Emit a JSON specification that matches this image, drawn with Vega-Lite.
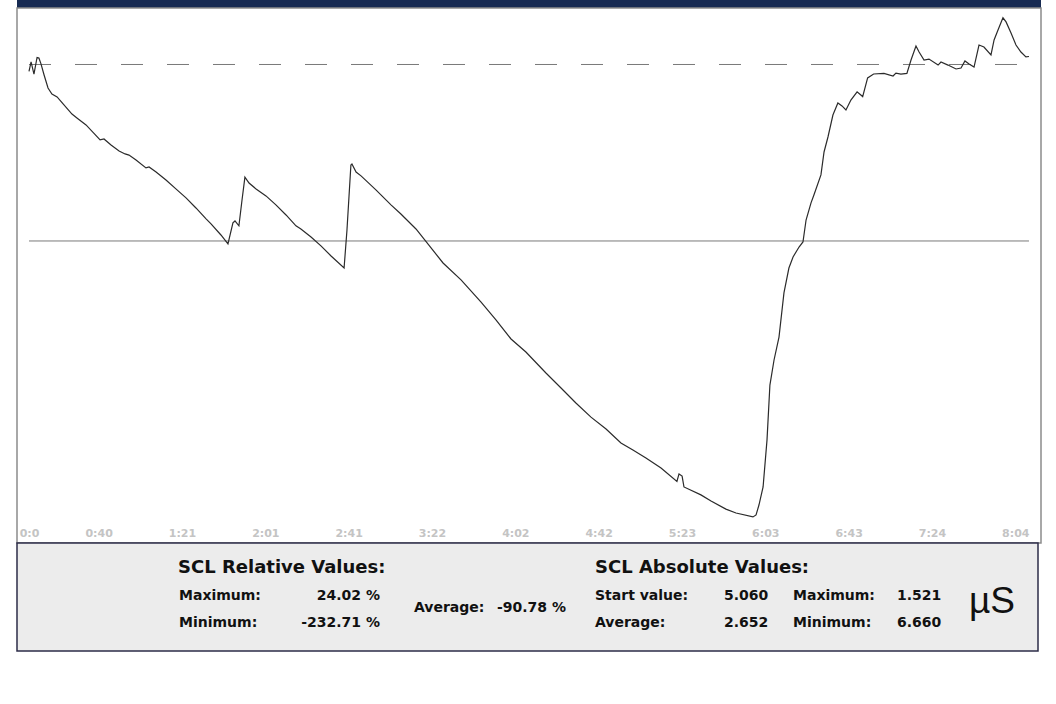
{
  "$schema": "https://vega.github.io/schema/vega-lite/v6.json",
  "background": "#ffffff",
  "padding": {"left": 16, "top": 0, "right": 0, "bottom": 0},
  "spacing": 0,
  "bounds": "flush",
  "config": {"view": {"stroke": null}, "font": "DejaVu Sans"},
  "vconcat": [
    {
      "width": 1024,
      "height": 8,
      "view": {"fill": "#172a52", "stroke": null},
      "data": {"values": [{}]},
      "mark": {"type": "text", "text": "", "fontSize": 1, "baseline": "middle"}
    },
    {
      "width": 1024,
      "height": 535,
      "view": {"fill": "#ffffff", "stroke": "#8c8c8c", "strokeWidth": 1.5},
      "encoding": {
        "x": {
          "field": "t",
          "type": "quantitative",
          "scale": {"domain": [-5.81, 489.81], "nice": false, "zero": false},
          "axis": {
            "values": [0, 40.3333, 80.6667, 121, 161.3333, 201.6667, 242, 282.3333, 322.6667, 363, 403.3333, 443.6667, 484],
            "labelExpr": "datum.value == 0 ? '0:0' : floor(round(datum.value) / 60) + ':' + (round(datum.value) % 60 < 10 ? '0' : '') + (round(datum.value) % 60)",
            "title": null,
            "domain": false,
            "ticks": false,
            "grid": false,
            "offset": -18,
            "labelPadding": 2,
            "labelBaseline": "top",
            "labelFont": "DejaVu Sans",
            "labelFontSize": 11,
            "labelFontWeight": "bold",
            "labelColor": "#c4c4c4",
            "labelAlign": {"condition": {"test": "datum.value == 0", "value": "center"}, "value": "right"},
            "labelFlush": false,
            "labelOverlap": false,
            "labelBound": false
          }
        },
        "y": {
          "field": "pct",
          "type": "quantitative",
          "scale": {"domain": [-246.14, 29.06], "nice": false, "zero": false},
          "axis": null
        }
      },
      "layer": [
        {
          "data": {"values": [{"t": 0, "t_end": 484, "pct": 0}]},
          "mark": {"type": "rule", "color": "#7a7a7a", "strokeWidth": 1, "strokeDash": [22, 24]},
          "encoding": {"x2": {"field": "t_end"}}
        },
        {
          "data": {"values": [{"t": 0, "t_end": 484, "pct": -90.78}]},
          "mark": {"type": "rule", "color": "#7a7a7a", "strokeWidth": 1},
          "encoding": {"x2": {"field": "t_end"}}
        },
        {
          "data": {"values": [
            {"t": 0, "pct": -3.6}, {"t": 1.0, "pct": 1.3}, {"t": 2.4, "pct": -4.9}, {"t": 3.9, "pct": 3.6},
            {"t": 4.8, "pct": 3.3}, {"t": 5.8, "pct": 0.3}, {"t": 7.3, "pct": -5.4}, {"t": 9.2, "pct": -12.1},
            {"t": 11.1, "pct": -15.2}, {"t": 13.6, "pct": -16.7}, {"t": 16.5, "pct": -20.3}, {"t": 20.8, "pct": -25.5},
            {"t": 23.2, "pct": -27.5}, {"t": 27.6, "pct": -31.1}, {"t": 34.4, "pct": -38.8}, {"t": 36.3, "pct": -38.3},
            {"t": 39.7, "pct": -41.4}, {"t": 43.6, "pct": -44.5}, {"t": 46.5, "pct": -46.0}, {"t": 48.4, "pct": -46.6},
            {"t": 51.8, "pct": -49.1}, {"t": 56.6, "pct": -53.2}, {"t": 58.1, "pct": -52.7}, {"t": 61.5, "pct": -55.3},
            {"t": 66.3, "pct": -59.4}, {"t": 71.1, "pct": -64.0}, {"t": 76.0, "pct": -68.6}, {"t": 80.8, "pct": -73.8},
            {"t": 85.7, "pct": -79.4}, {"t": 88.1, "pct": -82.0}, {"t": 92.9, "pct": -87.7}, {"t": 96.3, "pct": -92.3},
            {"t": 98.7, "pct": -81.5}, {"t": 99.7, "pct": -80.5}, {"t": 101.6, "pct": -83.0}, {"t": 103.1, "pct": -69.7},
            {"t": 104.5, "pct": -57.9}, {"t": 106.5, "pct": -61.0}, {"t": 109.9, "pct": -64.0}, {"t": 114.7, "pct": -67.6},
            {"t": 119.5, "pct": -72.2}, {"t": 124.4, "pct": -77.4}, {"t": 129.2, "pct": -83.0}, {"t": 131.6, "pct": -84.6},
            {"t": 136.5, "pct": -88.7}, {"t": 141.3, "pct": -93.3}, {"t": 146.2, "pct": -98.5}, {"t": 152.5, "pct": -104.7},
            {"t": 153.9, "pct": -85.1}, {"t": 155.8, "pct": -51.7}, {"t": 156.3, "pct": -51.2}, {"t": 158.3, "pct": -55.3},
            {"t": 160.7, "pct": -57.3}, {"t": 167.9, "pct": -64.5}, {"t": 175.2, "pct": -72.2}, {"t": 180.0, "pct": -76.9},
            {"t": 187.3, "pct": -84.6}, {"t": 192.1, "pct": -91.0}, {"t": 200.4, "pct": -102.1}, {"t": 209.1, "pct": -110.8},
            {"t": 218.8, "pct": -122.2}, {"t": 226.0, "pct": -131.4}, {"t": 233.3, "pct": -141.2}, {"t": 240.5, "pct": -147.9},
            {"t": 250.2, "pct": -158.7}, {"t": 257.5, "pct": -166.4}, {"t": 264.7, "pct": -174.1}, {"t": 272.0, "pct": -181.4},
            {"t": 279.3, "pct": -187.5}, {"t": 286.5, "pct": -194.7}, {"t": 292.3, "pct": -198.3}, {"t": 298.6, "pct": -202.4},
            {"t": 305.9, "pct": -207.6}, {"t": 313.6, "pct": -214.5}, {"t": 314.6, "pct": -210.6}, {"t": 316.1, "pct": -211.7},
            {"t": 317.0, "pct": -217.3}, {"t": 325.2, "pct": -221.4}, {"t": 330.1, "pct": -224.5}, {"t": 337.3, "pct": -228.7},
            {"t": 342.2, "pct": -230.7}, {"t": 350.4, "pct": -232.71}, {"t": 351.9, "pct": -231.7}, {"t": 353.3, "pct": -226.6},
            {"t": 355.3, "pct": -217.3}, {"t": 357.2, "pct": -193.1}, {"t": 358.6, "pct": -164.9}, {"t": 360.6, "pct": -152.0},
            {"t": 363.0, "pct": -140.2}, {"t": 365.4, "pct": -117.5}, {"t": 367.8, "pct": -104.7}, {"t": 369.8, "pct": -99.0},
            {"t": 372.7, "pct": -93.9}, {"t": 374.6, "pct": -91.3}, {"t": 376.1, "pct": -80.0}, {"t": 378.5, "pct": -71.2},
            {"t": 379.9, "pct": -67.1}, {"t": 383.3, "pct": -56.8}, {"t": 384.8, "pct": -45.0}, {"t": 386.7, "pct": -37.3},
            {"t": 389.1, "pct": -26.0}, {"t": 391.5, "pct": -19.8}, {"t": 393.5, "pct": -21.3}, {"t": 395.4, "pct": -23.4},
            {"t": 397.8, "pct": -18.3}, {"t": 400.8, "pct": -14.1}, {"t": 403.5, "pct": -16.5}, {"t": 405.9, "pct": -6.9},
            {"t": 408.8, "pct": -4.9}, {"t": 413.8, "pct": -4.6}, {"t": 418.2, "pct": -5.9}, {"t": 419.6, "pct": -4.4},
            {"t": 422.0, "pct": -4.9}, {"t": 424.9, "pct": -4.6}, {"t": 426.9, "pct": 2.3}, {"t": 429.3, "pct": 9.5},
            {"t": 430.8, "pct": 6.4}, {"t": 433.2, "pct": 2.3}, {"t": 435.6, "pct": 2.8}, {"t": 440.0, "pct": -0.3},
            {"t": 441.4, "pct": 1.3}, {"t": 444.8, "pct": -0.3}, {"t": 448.7, "pct": -2.3}, {"t": 451.1, "pct": -1.8},
            {"t": 453.0, "pct": 1.8}, {"t": 455.0, "pct": 0.3}, {"t": 457.4, "pct": -1.3}, {"t": 459.8, "pct": 10.0},
            {"t": 462.2, "pct": 9.0}, {"t": 465.6, "pct": 4.9}, {"t": 467.1, "pct": 12.6}, {"t": 469.0, "pct": 17.7},
            {"t": 471.4, "pct": 24.02}, {"t": 472.9, "pct": 21.9}, {"t": 475.3, "pct": 16.2}, {"t": 477.7, "pct": 10.0},
            {"t": 480.1, "pct": 6.4}, {"t": 482.5, "pct": 3.9}, {"t": 484.0, "pct": 4.1}
          ]},
          "mark": {"type": "line", "color": "#2b2b2b", "strokeWidth": 1.2}
        }
      ]
    },
    {
      "width": 1021,
      "height": 108,
      "view": {"fill": "#ececec", "stroke": "#2c2c48", "strokeWidth": 1.5},
      "data": {"values": [{}]},
      "layer": [
        {
          "mark": {"type": "text", "text": "SCL Relative Values:", "align": "left", "baseline": "alphabetic", "font": "DejaVu Sans", "fontWeight": "bold", "fontSize": 18, "color": "#111111"},
          "encoding": {"x": {"value": 161}, "y": {"value": 30}}
        },
        {
          "mark": {"type": "text", "text": ["Maximum:", "Minimum:"], "align": "left", "baseline": "alphabetic", "font": "DejaVu Sans", "fontWeight": "bold", "fontSize": 14, "lineHeight": 27, "color": "#111111"},
          "encoding": {"x": {"value": 162}, "y": {"value": 57}}
        },
        {
          "mark": {"type": "text", "text": ["24.02 %", "-232.71 %"], "align": "right", "baseline": "alphabetic", "font": "DejaVu Sans", "fontWeight": "bold", "fontSize": 14, "lineHeight": 27, "color": "#111111"},
          "encoding": {"x": {"value": 363}, "y": {"value": 57}}
        },
        {
          "mark": {"type": "text", "text": "Average:", "align": "left", "baseline": "alphabetic", "font": "DejaVu Sans", "fontWeight": "bold", "fontSize": 14, "color": "#111111"},
          "encoding": {"x": {"value": 397}, "y": {"value": 69}}
        },
        {
          "mark": {"type": "text", "text": "-90.78 %", "align": "right", "baseline": "alphabetic", "font": "DejaVu Sans", "fontWeight": "bold", "fontSize": 14, "color": "#111111"},
          "encoding": {"x": {"value": 549}, "y": {"value": 69}}
        },
        {
          "mark": {"type": "text", "text": "SCL Absolute Values:", "align": "left", "baseline": "alphabetic", "font": "DejaVu Sans", "fontWeight": "bold", "fontSize": 18, "color": "#111111"},
          "encoding": {"x": {"value": 578}, "y": {"value": 30}}
        },
        {
          "mark": {"type": "text", "text": ["Start value:", "Average:"], "align": "left", "baseline": "alphabetic", "font": "DejaVu Sans", "fontWeight": "bold", "fontSize": 14, "lineHeight": 27, "color": "#111111"},
          "encoding": {"x": {"value": 578}, "y": {"value": 57}}
        },
        {
          "mark": {"type": "text", "text": ["5.060", "2.652"], "align": "left", "baseline": "alphabetic", "font": "DejaVu Sans", "fontWeight": "bold", "fontSize": 14, "lineHeight": 27, "color": "#111111"},
          "encoding": {"x": {"value": 707}, "y": {"value": 57}}
        },
        {
          "mark": {"type": "text", "text": ["Maximum:", "Minimum:"], "align": "left", "baseline": "alphabetic", "font": "DejaVu Sans", "fontWeight": "bold", "fontSize": 14, "lineHeight": 27, "color": "#111111"},
          "encoding": {"x": {"value": 776}, "y": {"value": 57}}
        },
        {
          "mark": {"type": "text", "text": ["1.521", "6.660"], "align": "left", "baseline": "alphabetic", "font": "DejaVu Sans", "fontWeight": "bold", "fontSize": 14, "lineHeight": 27, "color": "#111111"},
          "encoding": {"x": {"value": 880}, "y": {"value": 57}}
        },
        {
          "mark": {"type": "text", "text": "µS", "align": "left", "baseline": "alphabetic", "font": "Liberation Sans", "fontSize": 37, "color": "#111111"},
          "encoding": {"x": {"value": 952}, "y": {"value": 70}}
        }
      ]
    }
  ]
}
